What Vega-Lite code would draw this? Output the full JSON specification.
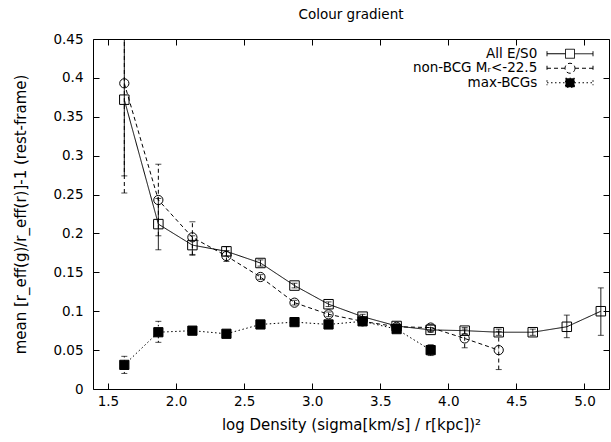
{
  "$schema": "https://vega.github.io/schema/vega-lite/v6.json",
  "width": 516,
  "height": 350,
  "autosize": "none",
  "padding": {"left": 93, "top": 39, "right": 2, "bottom": 53},
  "background": "white",
  "config": {
    "font": "DejaVu Sans",
    "view": {"stroke": "black", "strokeWidth": 1},
    "axis": {
      "domain": false,
      "grid": false,
      "ticks": true,
      "tickColor": "black",
      "tickSize": -6,
      "tickWidth": 1,
      "labelColor": "black",
      "labelFontSize": 13.5,
      "labelFont": "DejaVu Sans",
      "titleColor": "black",
      "titleFontSize": 15,
      "titleFontWeight": "normal",
      "titleFont": "DejaVu Sans"
    }
  },
  "title": {"text": "Colour gradient", "fontSize": 13.5, "fontWeight": "normal", "font": "DejaVu Sans", "color": "black", "offset": 11},
  "data": {
    "values": [
      {"s": "All E/S0", "x": 1.62, "y": 0.372, "lo": 0.274, "hi": 0.470},
      {"s": "All E/S0", "x": 1.87, "y": 0.212, "lo": 0.179, "hi": 0.245},
      {"s": "All E/S0", "x": 2.12, "y": 0.185, "lo": 0.173, "hi": 0.197},
      {"s": "All E/S0", "x": 2.37, "y": 0.177, "lo": 0.171, "hi": 0.183},
      {"s": "All E/S0", "x": 2.62, "y": 0.162, "lo": 0.158, "hi": 0.166},
      {"s": "All E/S0", "x": 2.87, "y": 0.133, "lo": 0.130, "hi": 0.136},
      {"s": "All E/S0", "x": 3.12, "y": 0.109, "lo": 0.106, "hi": 0.112},
      {"s": "All E/S0", "x": 3.37, "y": 0.093, "lo": 0.090, "hi": 0.096},
      {"s": "All E/S0", "x": 3.62, "y": 0.081, "lo": 0.078, "hi": 0.084},
      {"s": "All E/S0", "x": 3.87, "y": 0.076, "lo": 0.073, "hi": 0.079},
      {"s": "All E/S0", "x": 4.12, "y": 0.075, "lo": 0.071, "hi": 0.079},
      {"s": "All E/S0", "x": 4.37, "y": 0.073, "lo": 0.069, "hi": 0.077},
      {"s": "All E/S0", "x": 4.62, "y": 0.073, "lo": 0.069, "hi": 0.077},
      {"s": "All E/S0", "x": 4.87, "y": 0.080, "lo": 0.066, "hi": 0.095},
      {"s": "All E/S0", "x": 5.12, "y": 0.100, "lo": 0.069, "hi": 0.130},
      {"s": "non-BCG Mᵣ<-22.5", "x": 1.62, "y": 0.393, "lo": 0.252, "hi": 0.534},
      {"s": "non-BCG Mᵣ<-22.5", "x": 1.87, "y": 0.243, "lo": 0.197, "hi": 0.289},
      {"s": "non-BCG Mᵣ<-22.5", "x": 2.12, "y": 0.195, "lo": 0.172, "hi": 0.215},
      {"s": "non-BCG Mᵣ<-22.5", "x": 2.37, "y": 0.171, "lo": 0.164, "hi": 0.178},
      {"s": "non-BCG Mᵣ<-22.5", "x": 2.62, "y": 0.144, "lo": 0.141, "hi": 0.147},
      {"s": "non-BCG Mᵣ<-22.5", "x": 2.87, "y": 0.111, "lo": 0.108, "hi": 0.114},
      {"s": "non-BCG Mᵣ<-22.5", "x": 3.12, "y": 0.096, "lo": 0.093, "hi": 0.099},
      {"s": "non-BCG Mᵣ<-22.5", "x": 3.37, "y": 0.087, "lo": 0.084, "hi": 0.090},
      {"s": "non-BCG Mᵣ<-22.5", "x": 3.62, "y": 0.080, "lo": 0.077, "hi": 0.083},
      {"s": "non-BCG Mᵣ<-22.5", "x": 3.87, "y": 0.079, "lo": 0.075, "hi": 0.083},
      {"s": "non-BCG Mᵣ<-22.5", "x": 4.12, "y": 0.065, "lo": 0.053, "hi": 0.077},
      {"s": "non-BCG Mᵣ<-22.5", "x": 4.37, "y": 0.050, "lo": 0.025, "hi": 0.074},
      {"s": "max-BCGs", "x": 1.62, "y": 0.031, "lo": 0.020, "hi": 0.042},
      {"s": "max-BCGs", "x": 1.87, "y": 0.073, "lo": 0.060, "hi": 0.087},
      {"s": "max-BCGs", "x": 2.12, "y": 0.075, "lo": 0.071, "hi": 0.079},
      {"s": "max-BCGs", "x": 2.37, "y": 0.071, "lo": 0.068, "hi": 0.074},
      {"s": "max-BCGs", "x": 2.62, "y": 0.083, "lo": 0.080, "hi": 0.086},
      {"s": "max-BCGs", "x": 2.87, "y": 0.086, "lo": 0.083, "hi": 0.089},
      {"s": "max-BCGs", "x": 3.12, "y": 0.083, "lo": 0.080, "hi": 0.086},
      {"s": "max-BCGs", "x": 3.37, "y": 0.087, "lo": 0.083, "hi": 0.091},
      {"s": "max-BCGs", "x": 3.62, "y": 0.077, "lo": 0.073, "hi": 0.081},
      {"s": "max-BCGs", "x": 3.87, "y": 0.050, "lo": 0.043, "hi": 0.057}
    ]
  },
  "resolve": {"axis": {"x": "independent", "y": "independent"}},
  "layer": [
    {
      "mark": {"type": "line", "stroke": "black", "strokeWidth": 1, "clip": true},
      "encoding": {
        "x": {"field": "x", "type": "quantitative", "scale": {"domain": [1.39, 5.18], "nice": false, "zero": false},
              "axis": {"orient": "bottom", "values": [1.5, 2, 2.5, 3, 3.5, 4, 4.5, 5], "labelPadding": 11, "title": "log Density (sigma[km/s] / r[kpc])²", "titlePadding": 10}},
        "y": {"field": "y", "type": "quantitative", "scale": {"domain": [0, 0.45], "nice": false, "zero": false},
              "axis": {"orient": "left", "values": [0, 0.05, 0.1, 0.15, 0.2, 0.25, 0.3, 0.35, 0.4, 0.45], "format": ".2~f", "labelPadding": 16, "title": "mean [r_eff(g)/r_eff(r)]-1 (rest-frame)", "titlePadding": 24}},
        "detail": {"field": "s", "type": "nominal"},
        "strokeDash": {
          "field": "s", "type": "nominal",
          "scale": {"domain": ["All E/S0", "non-BCG Mᵣ<-22.5", "max-BCGs"], "range": [[1, 0], [4, 3], [1.5, 2.5]]},
          "legend": {
            "orient": "none",
            "legendX": 454,
            "legendY": 8,
            "title": null,
            "padding": 0,
            "symbolType": "M-4.6,-0.5V0.5M-4.6,0H-0.9M0.9,0H4.6M4.6,-0.5V0.5M-0.9,-0.9H0.9V0.9H-0.9Z",
            "symbolSize": 100,
            "symbolOffset": 16.25,
            "symbolStrokeWidth": 1,
            "symbolStrokeColor": "black",
            "labelAlign": "right",
            "labelOffset": -39.5,
            "labelFontSize": 13.5,
            "labelFont": "DejaVu Sans",
            "labelColor": "black",
            "labelLimit": 300,
            "rowPadding": -0.5,
            "encode": {
              "symbols": {
                "update": {
                  "shape": {"signal": "datum.value === 'non-BCG Mᵣ<-22.5' ? 'M-4.6,-0.5V0.5M-4.6,0H-1M1,0H4.6M4.6,-0.5V0.5M1,0A1,1 0 1 1 -1,0A1,1 0 1 1 1,0Z' : 'M-4.6,-0.5V0.5M-4.6,0H-0.9M0.9,0H4.6M4.6,-0.5V0.5M-0.9,-0.9H0.9V0.9H-0.9Z'"},
                  "fill": {"signal": "datum.value === 'max-BCGs' ? 'black' : 'transparent'"},
                  "stroke": {"value": "black"},
                  "opacity": {"value": 1}
                }
              }
            }
          }
        }
      }
    },
    {
      "mark": {"type": "rule", "stroke": "black", "strokeWidth": 1, "clip": true},
      "encoding": {
        "x": {"field": "x", "type": "quantitative", "axis": {"orient": "top", "values": [1.5, 2, 2.5, 3, 3.5, 4, 4.5, 5], "labels": false, "title": null}},
        "y": {"field": "lo", "type": "quantitative", "axis": {"orient": "right", "values": [0, 0.05, 0.1, 0.15, 0.2, 0.25, 0.3, 0.35, 0.4, 0.45], "labels": false, "title": null}},
        "y2": {"field": "hi"},
        "strokeDash": {"field": "s", "type": "nominal", "legend": null}
      }
    },
    {
      "mark": {"type": "tick", "orient": "horizontal", "color": "black", "size": 6, "thickness": 1, "clip": true},
      "encoding": {
        "x": {"field": "x", "type": "quantitative", "axis": null},
        "y": {"field": "lo", "type": "quantitative", "axis": null}
      }
    },
    {
      "mark": {"type": "tick", "orient": "horizontal", "color": "black", "size": 6, "thickness": 1, "clip": true},
      "encoding": {
        "x": {"field": "x", "type": "quantitative", "axis": null},
        "y": {"field": "hi", "type": "quantitative", "axis": null}
      }
    },
    {
      "transform": [{"filter": {"field": "s", "equal": "All E/S0"}}],
      "mark": {"type": "point", "shape": "square", "size": 90, "stroke": "black", "strokeWidth": 1, "fill": "transparent", "opacity": 1, "clip": true},
      "encoding": {
        "x": {"field": "x", "type": "quantitative", "axis": null},
        "y": {"field": "y", "type": "quantitative", "axis": null}
      }
    },
    {
      "transform": [{"filter": {"field": "s", "equal": "non-BCG Mᵣ<-22.5"}}],
      "mark": {"type": "point", "shape": "circle", "size": 85, "stroke": "black", "strokeWidth": 1, "fill": "transparent", "opacity": 1, "clip": true},
      "encoding": {
        "x": {"field": "x", "type": "quantitative", "axis": null},
        "y": {"field": "y", "type": "quantitative", "axis": null}
      }
    },
    {
      "transform": [{"filter": {"field": "s", "equal": "max-BCGs"}}],
      "mark": {"type": "point", "shape": "square", "size": 85, "stroke": "black", "strokeWidth": 1, "fill": "black", "opacity": 1, "clip": true},
      "encoding": {
        "x": {"field": "x", "type": "quantitative", "axis": null},
        "y": {"field": "y", "type": "quantitative", "axis": null}
      }
    }
  ]
}
